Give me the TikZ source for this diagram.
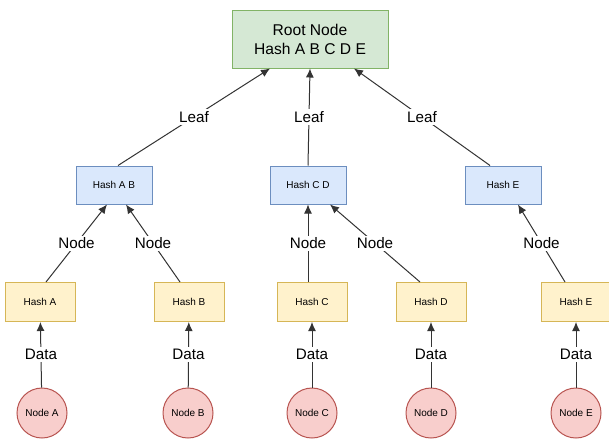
\documentclass[tikz,border=0pt]{standalone}
\usepackage{fontspec}
\setmainfont{Liberation Sans}
\usetikzlibrary{arrows.meta}
\definecolor{rootfill}{HTML}{D5E8D4}
\definecolor{rootline}{HTML}{82B366}
\definecolor{midfill}{HTML}{DAE8FC}
\definecolor{midline}{HTML}{6C8EBF}
\definecolor{leaffill}{HTML}{FFF2CC}
\definecolor{leafline}{HTML}{D6B656}
\definecolor{datafill}{HTML}{F8CECC}
\definecolor{dataline}{HTML}{B85450}

\begin{document}
\begin{tikzpicture}[x=0.5pt, y=-0.5pt, line width=0.5pt, -{Latex[length=4.5pt,width=4pt]}]
	\useasboundingbox (0,0) rectangle (609,439);
      \tikzstyle{rootbox} = [draw=rootline, fill=rootfill, minimum width=78pt, minimum height=29pt, align=center, font=\fontsize{7.8}{9.5}\selectfont]
      \tikzstyle{midbox} = [draw=midline, fill=midfill, minimum width=38pt, minimum height=19pt, font=\fontsize{5}{6}\selectfont]
      \tikzstyle{hashbox} = [draw=leafline, fill=leaffill, minimum width=35pt, minimum height=19.5pt, font=\fontsize{5}{6}\selectfont]
      \tikzstyle{datanode} = [draw=dataline, fill=datafill, circle, minimum size=25pt, inner sep=0pt, font=\fontsize{5}{6}\selectfont]
      \tikzstyle{lbl} = [fill=white, inner sep=1pt, font=\fontsize{7.6}{9}\selectfont]
      % root
      \node (root) at (310,39) [rootbox] {Root Node\\Hash A B C D E};
      % middle level
      \node (hashAB) at (114,185) [midbox] {Hash A B};
      \node (hashCD) at (308,185) [midbox] {Hash C D};
      \node (hashEE) at (503,185) [midbox] {Hash E};
      % hashes
      \node (hashA) at (40,302) [hashbox] {Hash A};
      \node (hashB) at (189,302) [hashbox] {Hash B};
      \node (hashC) at (312,302) [hashbox] {Hash C};
      \node (hashD) at (431,302) [hashbox] {Hash D};
      \node (hashE) at (576,302) [hashbox] {Hash E};
      % data
      \node (nodeA) at (42,413) [datanode] {Node A};
      \node (nodeB) at (188,413) [datanode] {Node B};
      \node (nodeC) at (312,413) [datanode] {Node C};
      \node (nodeD) at (431,413) [datanode] {Node D};
      \node (nodeE) at (576,413) [datanode] {Node E};
      \draw[draw=black!80] (nodeA) to node [lbl,midway] {Data} (hashA);
      \draw[draw=black!80] (nodeB) to node [lbl,midway] {Data} (hashB);
      \draw[draw=black!80] (nodeC) to node [lbl,midway] {Data} (hashC);
      \draw[draw=black!80] (nodeD) to node [lbl,midway] {Data} (hashD);
      \draw[draw=black!80] (nodeE) to node [lbl,midway] {Data} (hashE);
      \draw[draw=black!80] ([xshift=3pt]hashA.north) to node [lbl,midway] {Node} ([xshift=-3.5pt]hashAB.south);
      \draw[draw=black!80] ([xshift=-4.5pt]hashB.north) to node [lbl,midway] {Node} ([xshift=6pt]hashAB.south);
      \draw[draw=black!80] ([xshift=-2pt]hashC.north) to node [lbl,midway] {Node} (hashCD.south);
      \draw[draw=black!80] ([xshift=-5.5pt]hashD.north) to node [lbl,midway] {Node} ([xshift=11pt]hashCD.south);
      \draw[draw=black!80] ([xshift=-5.5pt]hashE.north) to node [lbl,midway] {Node} ([xshift=7.5pt]hashEE.south);
      \draw[draw=black!80] ([xshift=2pt]hashAB.north) to node [lbl,midway] {Leaf} ([xshift=-20pt]root.south);
      \draw[draw=black!80] (hashCD.north) to node [lbl,midway] {Leaf} (root.south);
      \draw[draw=black!80] ([xshift=-6.5pt]hashEE.north) to node [lbl,midway] {Leaf} ([xshift=22pt]root.south);
    \end{tikzpicture}
\end{document}
